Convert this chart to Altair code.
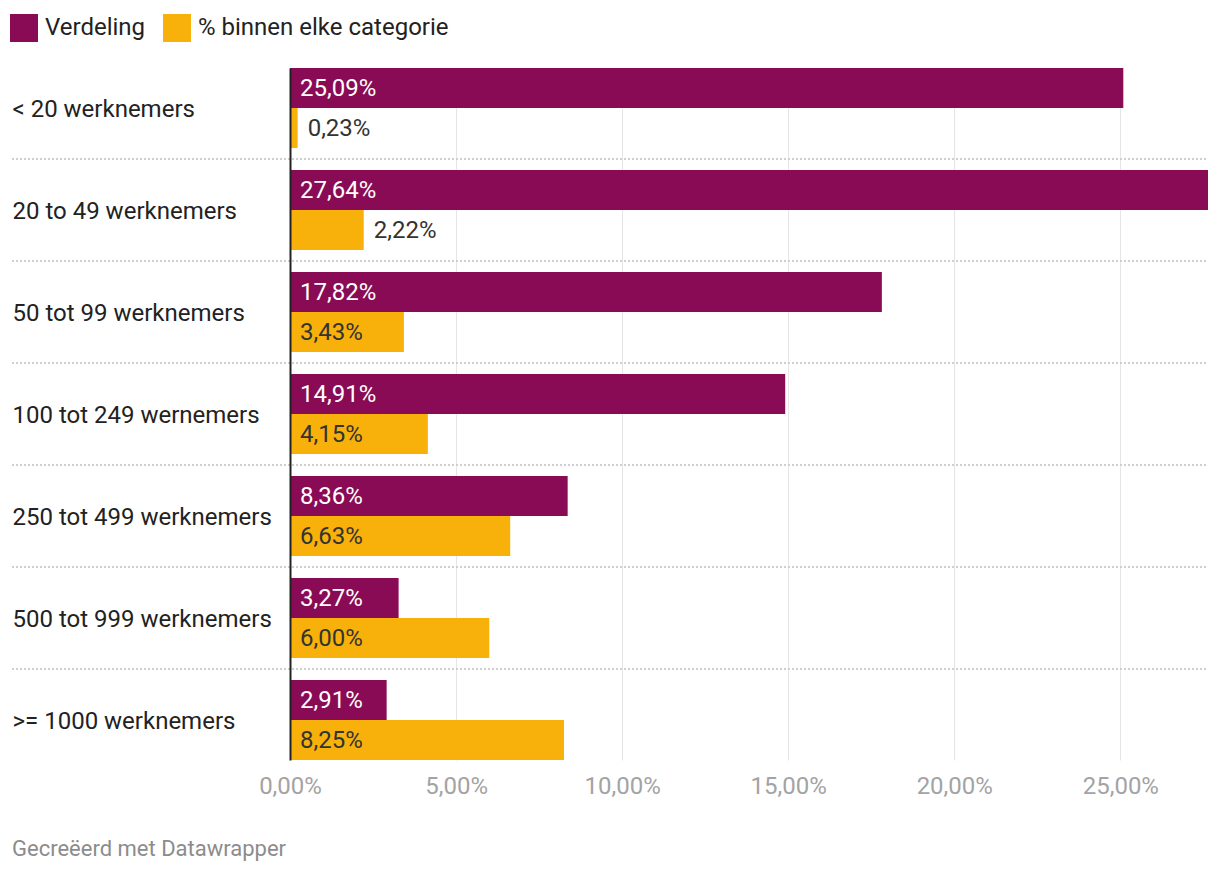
import altair as alt
import pandas as pd

categories = [
    "< 20 werknemers",
    "20 to 49 werknemers",
    "50 tot 99 werknemers",
    "100 tot 249 wernemers",
    "250 tot 499 werknemers",
    "500 tot 999 werknemers",
    ">= 1000 werknemers",
]
series = ["Verdeling", "% binnen elke categorie"]
verdeling = [25.09, 27.64, 17.82, 14.91, 8.36, 3.27, 2.91]
binnen = [0.23, 2.22, 3.43, 4.15, 6.63, 6.00, 8.25]
tick_values = [0, 5, 10, 15, 20, 25]
footer = "Gecreëerd met Datawrapper"

rows = []
for c, v, b in zip(categories, verdeling, binnen):
    rows.append({"cat": c, "series": series[0], "value": v})
    rows.append({"cat": c, "series": series[1], "value": b})
df = pd.DataFrame(rows)
sep_df = pd.DataFrame({"cat": categories[:-1]})
foot_df = pd.DataFrame({"t": [footer]})

W, H = 918, 692
FONT = "Roboto"
FS = 24
PURPLE = "#8a0b55"
ORANGE = "#f8b00b"

yscale = alt.Scale(paddingInner=22 / 102, paddingOuter=0)
yaxis = alt.Axis(
    title=None, labelAlign="left", labelPadding=278, ticks=False, tickSize=0,
    labelFontSize=FS, labelColor="#222222", labelFont=FONT, labelLimit=400,
    labelOffset=2,
    domainColor="#222222", domainWidth=2, zindex=2, grid=False,
)
xscale = alt.Scale(domain=[0, 27.64], nice=False, zero=True)
xaxis = alt.Axis(
    title=None, values=tick_values,
    labelExpr="replace(format(datum.value, '.2f'), '.', ',') + '%'",
    ticks=False, tickSize=0, labelPadding=14, labelFontSize=FS,
    labelColor="#a3a3a3", labelFont=FONT, labelFlush=False, labelOverlap=False,
    domain=False, grid=True, gridColor="#e5e5e5", gridWidth=1,
)


def Y(**kw):
    return alt.Y("cat:N", sort=categories, scale=yscale, axis=yaxis, **kw)


def X(field):
    return alt.X(field, scale=xscale, axis=xaxis)


yoff = alt.YOffset("series:N", sort=series,
                   scale=alt.Scale(paddingInner=0, paddingOuter=0))

bars = alt.Chart(df).mark_bar(cornerRadius=0).encode(
    x=X("value:Q"),
    y=Y(),
    yOffset=yoff,
    color=alt.Color(
        "series:N", sort=series,
        scale=alt.Scale(domain=series, range=[PURPLE, ORANGE]),
        legend=alt.Legend(
            title=None, orient="none", legendX=-280, legendY=-54,
            direction="horizontal", symbolType="square", symbolSize=784,
            symbolStrokeWidth=0, labelFontSize=FS, labelFont=FONT,
            labelColor="#222222", labelOffset=7, columnPadding=17, padding=0,
            symbolOpacity=1, labelLimit=500,
        ),
    ),
)

labels = alt.Chart(df).transform_calculate(
    label="replace(format(datum.value, '.2f'), '.', ',') + '%'",
    lx="datum.value < 2.5 ? datum.value : 0",
    tc="(datum.series == 'Verdeling' && datum.value >= 2.5) ? '#ffffff' : '#333333'",
).mark_text(align="left", baseline="middle", dx=10, dy=1, fontSize=FS, font=FONT).encode(
    x=X("lx:Q"),
    y=Y(),
    yOffset=yoff,
    text="label:N",
    color=alt.Color("tc:N", scale=None),
)

seps = alt.Chart(sep_df).mark_rule(
    strokeDash=[2, 2], color="#cfcfcf", strokeWidth=2
).encode(
    y=Y(bandPosition=0),
    yOffset=alt.value(91),
    x=alt.value(-278),
    x2=alt.value(W),
)

foot = alt.Chart(foot_df).mark_text(
    align="left", baseline="middle", fontSize=22, font=FONT, color="#8c8c8c"
).encode(
    text="t:N",
    x=alt.value(-278),
    y=alt.value(781),
)

chart = alt.layer(seps, bars, labels, foot).properties(
    width=W, height=H,
    autosize=alt.AutoSizeParams(type="none"),
    padding={"left": 282, "top": 60, "right": 0, "bottom": 104},
    background="white",
).configure_view(stroke=None)

chart.save("out.html", embed_options={"renderer": "svg", "actions": False})
